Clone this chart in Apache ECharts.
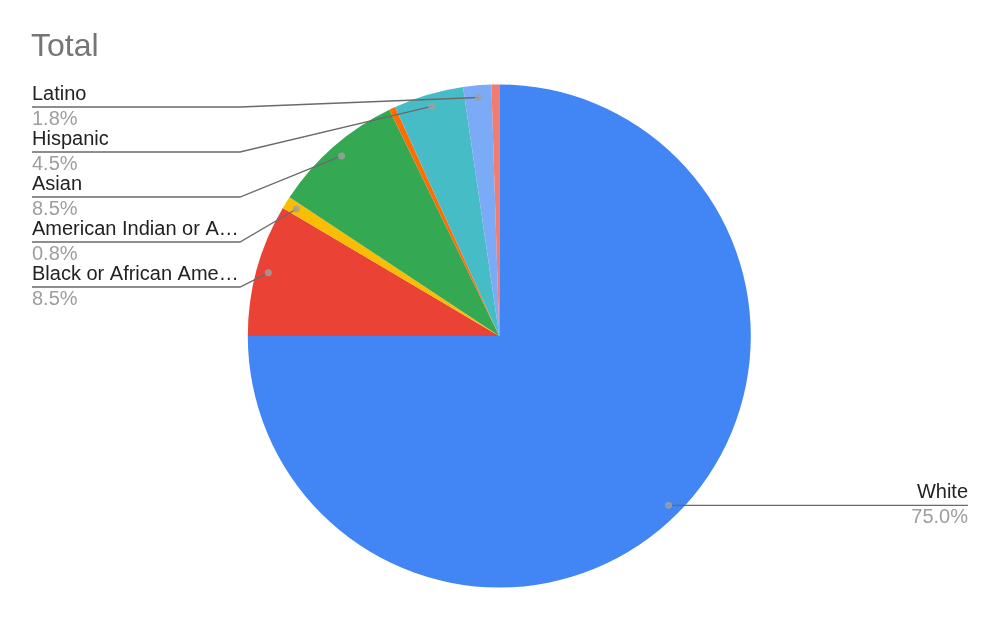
<!DOCTYPE html>
<html>
<head>
<meta charset="utf-8">
<script src="https://cdn.jsdelivr.net/npm/echarts@6/dist/echarts.min.js"></script>
<style>html,body{margin:0;padding:0;background:#fff;}#c{width:1000px;height:618px;}</style>
</head>
<body>
<div id="c"></div>
<script>
const categories = ['White', 'Black or African American', 'American Indian or Alaska Native', 'Asian', 'Native Hawaiian or Other Pacific Islander', 'Hispanic', 'Latino', 'Two or More Races'];
const values = [75.0, 8.5, 0.8, 8.5, 0.4, 4.5, 1.8, 0.5];
const colors = ['#4285f4', '#ea4335', '#fbbc04', '#34a853', '#ff6d01', '#46bdc6', '#7baaf7', '#f07b72'];
const showLabel = [true, true, true, true, false, true, true, false];

const CX = 499.3, CY = 336, R = 251.5, DOT = 0.952;
const FONT = '"Liberation Sans", Arial, sans-serif';
const total = values.reduce((a, b) => a + b, 0);

const mids = [];
let acc = 0;
values.forEach(v => { mids.push(acc + v / 2); acc += v; });

function dotPoint(i) {
  const th = mids[i] / total * Math.PI * 2;
  return [CX + R * DOT * Math.sin(th), CY - R * DOT * Math.cos(th)];
}

const leftOrder = [];
for (let i = values.length - 1; i >= 1; i--) if (showLabel[i]) leftOrder.push(i);

const baseData = categories.map((name, i) => ({ name, value: values[i], itemStyle: { color: colors[i] } }));

const labelData = categories.map((name, i) => {
  const d = { name, value: values[i], itemStyle: { color: 'rgba(0,0,0,0)' } };
  if (!showLabel[i]) { d.label = { show: false }; d.labelLine = { show: false }; }
  if (i === 0) { d.label = { align: 'right', rich: { n: { align: 'right' }, p: { align: 'right' } } }; }
  return d;
});

const dotData = [];
values.forEach((v, i) => { if (showLabel[i]) dotData.push([DOT, mids[i]]); });

const chart = echarts.init(document.getElementById('c'), null, { renderer: 'canvas' });
chart.setOption({
  animation: false,
  title: {
    text: 'Total', left: 31, top: 31, padding: 0,
    textStyle: { fontFamily: FONT, fontSize: 32, fontWeight: 'normal', color: '#757575' }
  },
  polar: { center: [CX, CY], radius: R },
  angleAxis: { type: 'value', min: 0, max: total, startAngle: 90, clockwise: true, show: false,
    axisLine: { show: false }, axisTick: { show: false }, axisLabel: { show: false }, splitLine: { show: false } },
  radiusAxis: { type: 'value', min: 0, max: 1, show: false,
    axisLine: { show: false }, axisTick: { show: false }, axisLabel: { show: false }, splitLine: { show: false } },
  series: [{
    type: 'pie',
    z: 2,
    center: [CX, CY],
    radius: [0, R],
    startAngle: 90,
    clockwise: true,
    data: baseData,
    itemStyle: { borderWidth: 0 },
    emphasis: { disabled: true },
    label: { show: false },
    labelLine: { show: false },
    silent: true
  }, {
    type: 'pie',
    z: 4,
    center: [CX, CY],
    radius: [0, R],
    startAngle: 90,
    clockwise: true,
    avoidLabelOverlap: false,
    data: labelData,
    itemStyle: { borderWidth: 0 },
    emphasis: { disabled: true },
    silent: true,
    label: {
      show: true,
      position: 'outside',
      width: 209,
      overflow: 'truncate',
      ellipsis: '…',
      formatter: p => '{n|' + p.name + '}\n{p|' + p.percent.toFixed(1) + '%}',
      rich: {
        n: { fontFamily: FONT, fontSize: 20, color: '#222222', lineHeight: 25 },
        p: { fontFamily: FONT, fontSize: 20, color: '#9e9e9e', lineHeight: 25 }
      }
    },
    labelLine: { show: true, lineStyle: { color: '#6a6a6a', width: 1.3 } },
    labelLayout: function (params) {
      const i = params.dataIndex;
      if (!showLabel[i]) return {};
      const d = dotPoint(i);
      if (i === 0) {
        const y = d[1];
        return { x: 968, y: y, align: 'right', verticalAlign: 'middle',
          labelLinePoints: [d, [(d[0] + 968) / 2, y], [968, y]] };
      }
      const k = leftOrder.indexOf(i);
      const y = 107 + 45 * k;
      return { x: 32, y: y, align: 'left', verticalAlign: 'middle',
        labelLinePoints: [d, [240, y], [32, y]] };
    }
  }, {
    type: 'scatter',
    coordinateSystem: 'polar',
    data: dotData,
    symbol: 'circle',
    symbolSize: 7,
    itemStyle: { color: '#a0a0a0' },
    silent: true,
    z: 6
  }]
});
</script>
</body>
</html>
